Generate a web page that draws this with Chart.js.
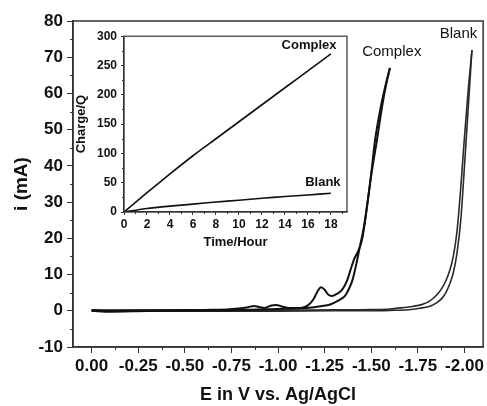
<!DOCTYPE html>
<html lang="en">
<head>
  <meta charset="UTF-8">
  <title>CV with charge inset</title>
  <style>
    body { margin: 0; background: #fff; }
    #wrap { position: relative; width: 487px; height: 406px; }
    #grafico { position: absolute; left: 0; top: 0; }
    #inset { position: absolute; left: 70px; top: 25px; }
  </style>
</head>
<body>
  <div id="wrap">
    <canvas id="grafico" width="487" height="406"></canvas>
    <canvas id="inset" width="285" height="230"></canvas>
  </div>

  <script src="https://cdn.jsdelivr.net/npm/chart.js"></script>

  <script>
    // main plot: cyclic voltammograms (E in V, i in mA)
    const complexUpE = [0, -0.1, -0.3, -0.5, -0.65, -0.74, -0.8, -0.84, -0.87, -0.9, -0.93, -0.96, -0.99, -1.02, -1.06, -1.12, -1.16, -1.19, -1.21, -1.23, -1.25, -1.27, -1.29, -1.32, -1.345, -1.37, -1.39, -1.41, -1.43, -1.45, -1.47, -1.5, -1.52, -1.55, -1.58, -1.6];
    const complexUpI = [0.2, 0.1, 0.15, 0.2, 0.3, 0.45, 0.7, 1.0, 1.35, 1.0, 0.8, 1.4, 1.6, 1.2, 0.8, 0.8, 1.5, 3.2, 5.2, 6.5, 5.8, 4.4, 4.1, 4.8, 5.9, 8.3, 11.5, 14.5, 16.5, 19.5, 26, 38, 47, 56, 63, 67];
    const complexDownE = [0, -0.1, -0.3, -0.5, -0.7, -0.85, -1.0, -1.1, -1.15, -1.18, -1.22, -1.27, -1.3, -1.33, -1.36, -1.38, -1.4, -1.42, -1.44, -1.46, -1.48, -1.5, -1.53, -1.56, -1.58, -1.6];
    const complexDownI = [0.0, -0.25, -0.05, 0, 0.1, 0.3, 0.5, 0.6, 0.75, 0.9, 1.2, 1.6, 2.2, 3.0, 4.2, 6.0, 8.6, 13, 18, 23, 30, 37.5, 47, 57, 62.5, 67];
    const blankUpE = [0, -0.5, -1.0, -1.3, -1.5, -1.6, -1.66, -1.72, -1.77, -1.81, -1.84, -1.86, -1.88, -1.9, -1.92, -1.94, -1.96, -1.98, -2.0, -2.02, -2.04];
    const blankUpI = [0.1, 0.1, 0.15, 0.25, 0.35, 0.5, 0.8, 1.2, 1.7, 2.6, 3.8, 4.9, 6.3, 8.3, 11, 15, 22, 34, 48, 61, 72];
    const blankDownE = [0, -0.5, -1.0, -1.3, -1.5, -1.6, -1.7, -1.76, -1.81, -1.85, -1.88, -1.9, -1.92, -1.94, -1.96, -1.98, -2.0, -2.02, -2.04];
    const blankDownI = [-0.1, -0.1, -0.1, 0, 0, 0.1, 0.3, 0.7, 1.2, 2.2, 3.5, 5, 7.3, 10.5, 16, 25, 40, 56, 72];

    const eTicks = [0, -0.25, -0.5, -0.75, -1.0, -1.25, -1.5, -1.75, -2.0];
    const eMinor = [-0.125, -0.375, -0.625, -0.875, -1.125, -1.375, -1.625, -1.875];
    const iMinor = [-5, 5, 15, 25, 35, 45, 55, 65, 75];

    // inset: charge vs time
    const hours = [0, 2, 4, 6, 8, 10, 12, 14, 16, 18];
    const complexCharge = [0, 33, 65, 96, 125, 154, 183, 212, 241, 270];
    const blankCharge = [0, 6, 10, 13.5, 17, 20, 23.5, 26.5, 29, 32];
    const hourTicks = [0, 2, 4, 6, 8, 10, 12, 14, 16, 18];
    const hourMinor = [1, 3, 5, 7, 9, 11, 13, 15, 17, 19];
    const chargeMinor = [25, 75, 125, 175, 225, 275];

    const fam = "'Liberation Sans', Arial, sans-serif";
    const ink = '#333';

    function pts(xs, ys) {
      return xs.map((x, k) => ({ x: x, y: ys[k] }));
    }

    // frame + minor ticks + text labels
    const extras = {
      id: 'extras',
      afterDraw(chart, args, opts) {
        const ctx = chart.ctx;
        const a = chart.chartArea;
        const xs = chart.scales.x, ys = chart.scales.y;
        ctx.save();
        ctx.strokeStyle = ink;
        ctx.lineWidth = opts.frame;
        ctx.strokeRect(a.left, a.top, a.right - a.left, a.bottom - a.top);
        ctx.lineWidth = 1;
        ctx.beginPath();
        (opts.xMinor || []).forEach(v => {
          const p = Math.round(xs.getPixelForValue(v)) + 0.5;
          ctx.moveTo(p, a.bottom);
          ctx.lineTo(p, a.bottom + opts.minorLen);
        });
        (opts.yMinor || []).forEach(v => {
          const p = Math.round(ys.getPixelForValue(v)) + 0.5;
          ctx.moveTo(a.left, p);
          ctx.lineTo(a.left - opts.minorLen, p);
        });
        ctx.stroke();
        ctx.fillStyle = '#111';
        ctx.textAlign = 'center';
        ctx.textBaseline = 'middle';
        (opts.labels || []).forEach(l => {
          ctx.font = l.font;
          ctx.fillText(l.text, xs.getPixelForValue(l.x), ys.getPixelForValue(l.y));
        });
        ctx.restore();
      }
    };

    const lienzo = document.getElementById('grafico');
    const cv = new Chart(lienzo, {
      type: 'scatter',
      data: {
        datasets: [
          { label: 'Complex', data: pts(complexUpE, complexUpI), borderColor: '#111', borderWidth: 2 },
          { label: 'Complex', data: pts(complexDownE, complexDownI), borderColor: '#111', borderWidth: 2 },
          { label: 'Blank', data: pts(blankUpE, blankUpI), borderColor: '#2a2a2a', borderWidth: 1.6 },
          { label: 'Blank', data: pts(blankDownE, blankDownI), borderColor: '#2a2a2a', borderWidth: 1.6 }
        ].map(d => Object.assign(d, { showLine: true, pointRadius: 0, cubicInterpolationMode: 'monotone', fill: false }))
      },
      options: {
        responsive: false,
        animation: false,
        layout: { padding: { left: 0, top: 21, right: 3, bottom: 0 } },
        plugins: {
          legend: { display: false },
          tooltip: { enabled: false },
          extras: {
            frame: 1.5,
            minorLen: 3,
            xMinor: eMinor,
            yMinor: iMinor,
            labels: [
              { text: 'Complex', x: -1.61, y: 71.5, font: '15px ' + fam },
              { text: 'Blank', x: -1.968, y: 76.5, font: '15px ' + fam }
            ]
          }
        },
        scales: {
          x: {
            type: 'linear',
            reverse: true,
            min: -2.1,
            max: 0.1,
            afterBuildTicks: s => { s.ticks = eTicks.map(v => ({ value: v })); },
            afterFit: s => { s.height = 59; },
            grid: { drawOnChartArea: false, tickLength: 6, tickColor: ink, color: ink },
            border: { color: ink, width: 1.5 },
            ticks: {
              color: '#111', padding: 3, maxRotation: 0, autoSkip: false,
              font: { family: fam, size: 17, weight: 'bold' },
              callback: v => v.toFixed(2)
            },
            title: {
              display: true, text: 'E in V vs. Ag/AgCl', color: '#111',
              font: { family: fam, size: 18, weight: 'bold' },
              padding: { top: 0, bottom: 0 }
            }
          },
          y: {
            min: -10,
            max: 80,
            afterFit: s => { s.width = 73; },
            grid: { drawOnChartArea: false, tickLength: 6, tickColor: ink, color: ink },
            border: { color: ink, width: 1.5 },
            ticks: {
              stepSize: 10, color: '#111', padding: 4,
              font: { family: fam, size: 17, weight: 'bold' }
            },
            title: {
              display: true, text: 'i (mA)', color: '#111',
              font: { family: fam, size: 19, weight: 'bold' },
              padding: { top: 10, bottom: 0 }
            }
          }
        }
      },
      plugins: [extras]
    });

    const lienzo2 = document.getElementById('inset');
    const carga = new Chart(lienzo2, {
      type: 'scatter',
      data: {
        datasets: [
          { label: 'Complex', data: pts(hours, complexCharge) },
          { label: 'Blank', data: pts(hours, blankCharge) }
        ].map(d => Object.assign(d, { showLine: true, pointRadius: 0, borderColor: '#111', borderWidth: 1.6, tension: 0.2 }))
      },
      options: {
        responsive: false,
        animation: false,
        layout: { padding: { left: 0, top: 10, right: 8, bottom: 0 } },
        plugins: {
          legend: { display: false },
          tooltip: { enabled: false },
          extras: {
            frame: 1.2,
            minorLen: 2,
            xMinor: hourMinor,
            yMinor: chargeMinor,
            labels: [
              { text: 'Complex', x: 16.1, y: 285, font: 'bold 13px ' + fam },
              { text: 'Blank', x: 17.3, y: 51, font: 'bold 13px ' + fam }
            ]
          }
        },
        scales: {
          x: {
            type: 'linear',
            min: 0,
            max: 19.4,
            afterBuildTicks: s => { s.ticks = hourTicks.map(v => ({ value: v })); },
            afterFit: s => { s.height = 43; },
            grid: { drawOnChartArea: false, tickLength: 3, tickColor: ink, color: ink },
            border: { color: ink, width: 1.2 },
            ticks: {
              color: '#111', padding: 2, maxRotation: 0, autoSkip: false,
              font: { family: fam, size: 12, weight: 'bold' }
            },
            title: {
              display: true, text: 'Time/Hour', color: '#111',
              font: { family: fam, size: 13, weight: 'bold' },
              padding: { top: 0, bottom: 5 }
            }
          },
          y: {
            min: 0,
            max: 300,
            afterFit: s => { s.width = 54; },
            grid: { drawOnChartArea: false, tickLength: 3, tickColor: ink, color: ink },
            border: { color: ink, width: 1.2 },
            ticks: {
              stepSize: 50, color: '#111', padding: 4,
              font: { family: fam, size: 12, weight: 'bold' }
            },
            title: {
              display: true, text: 'Charge/Q', color: '#111',
              font: { family: fam, size: 13, weight: 'bold' },
              padding: { top: 4, bottom: 0 }
            }
          }
        }
      },
      plugins: [extras]
    });
  </script>
</body>
</html>
